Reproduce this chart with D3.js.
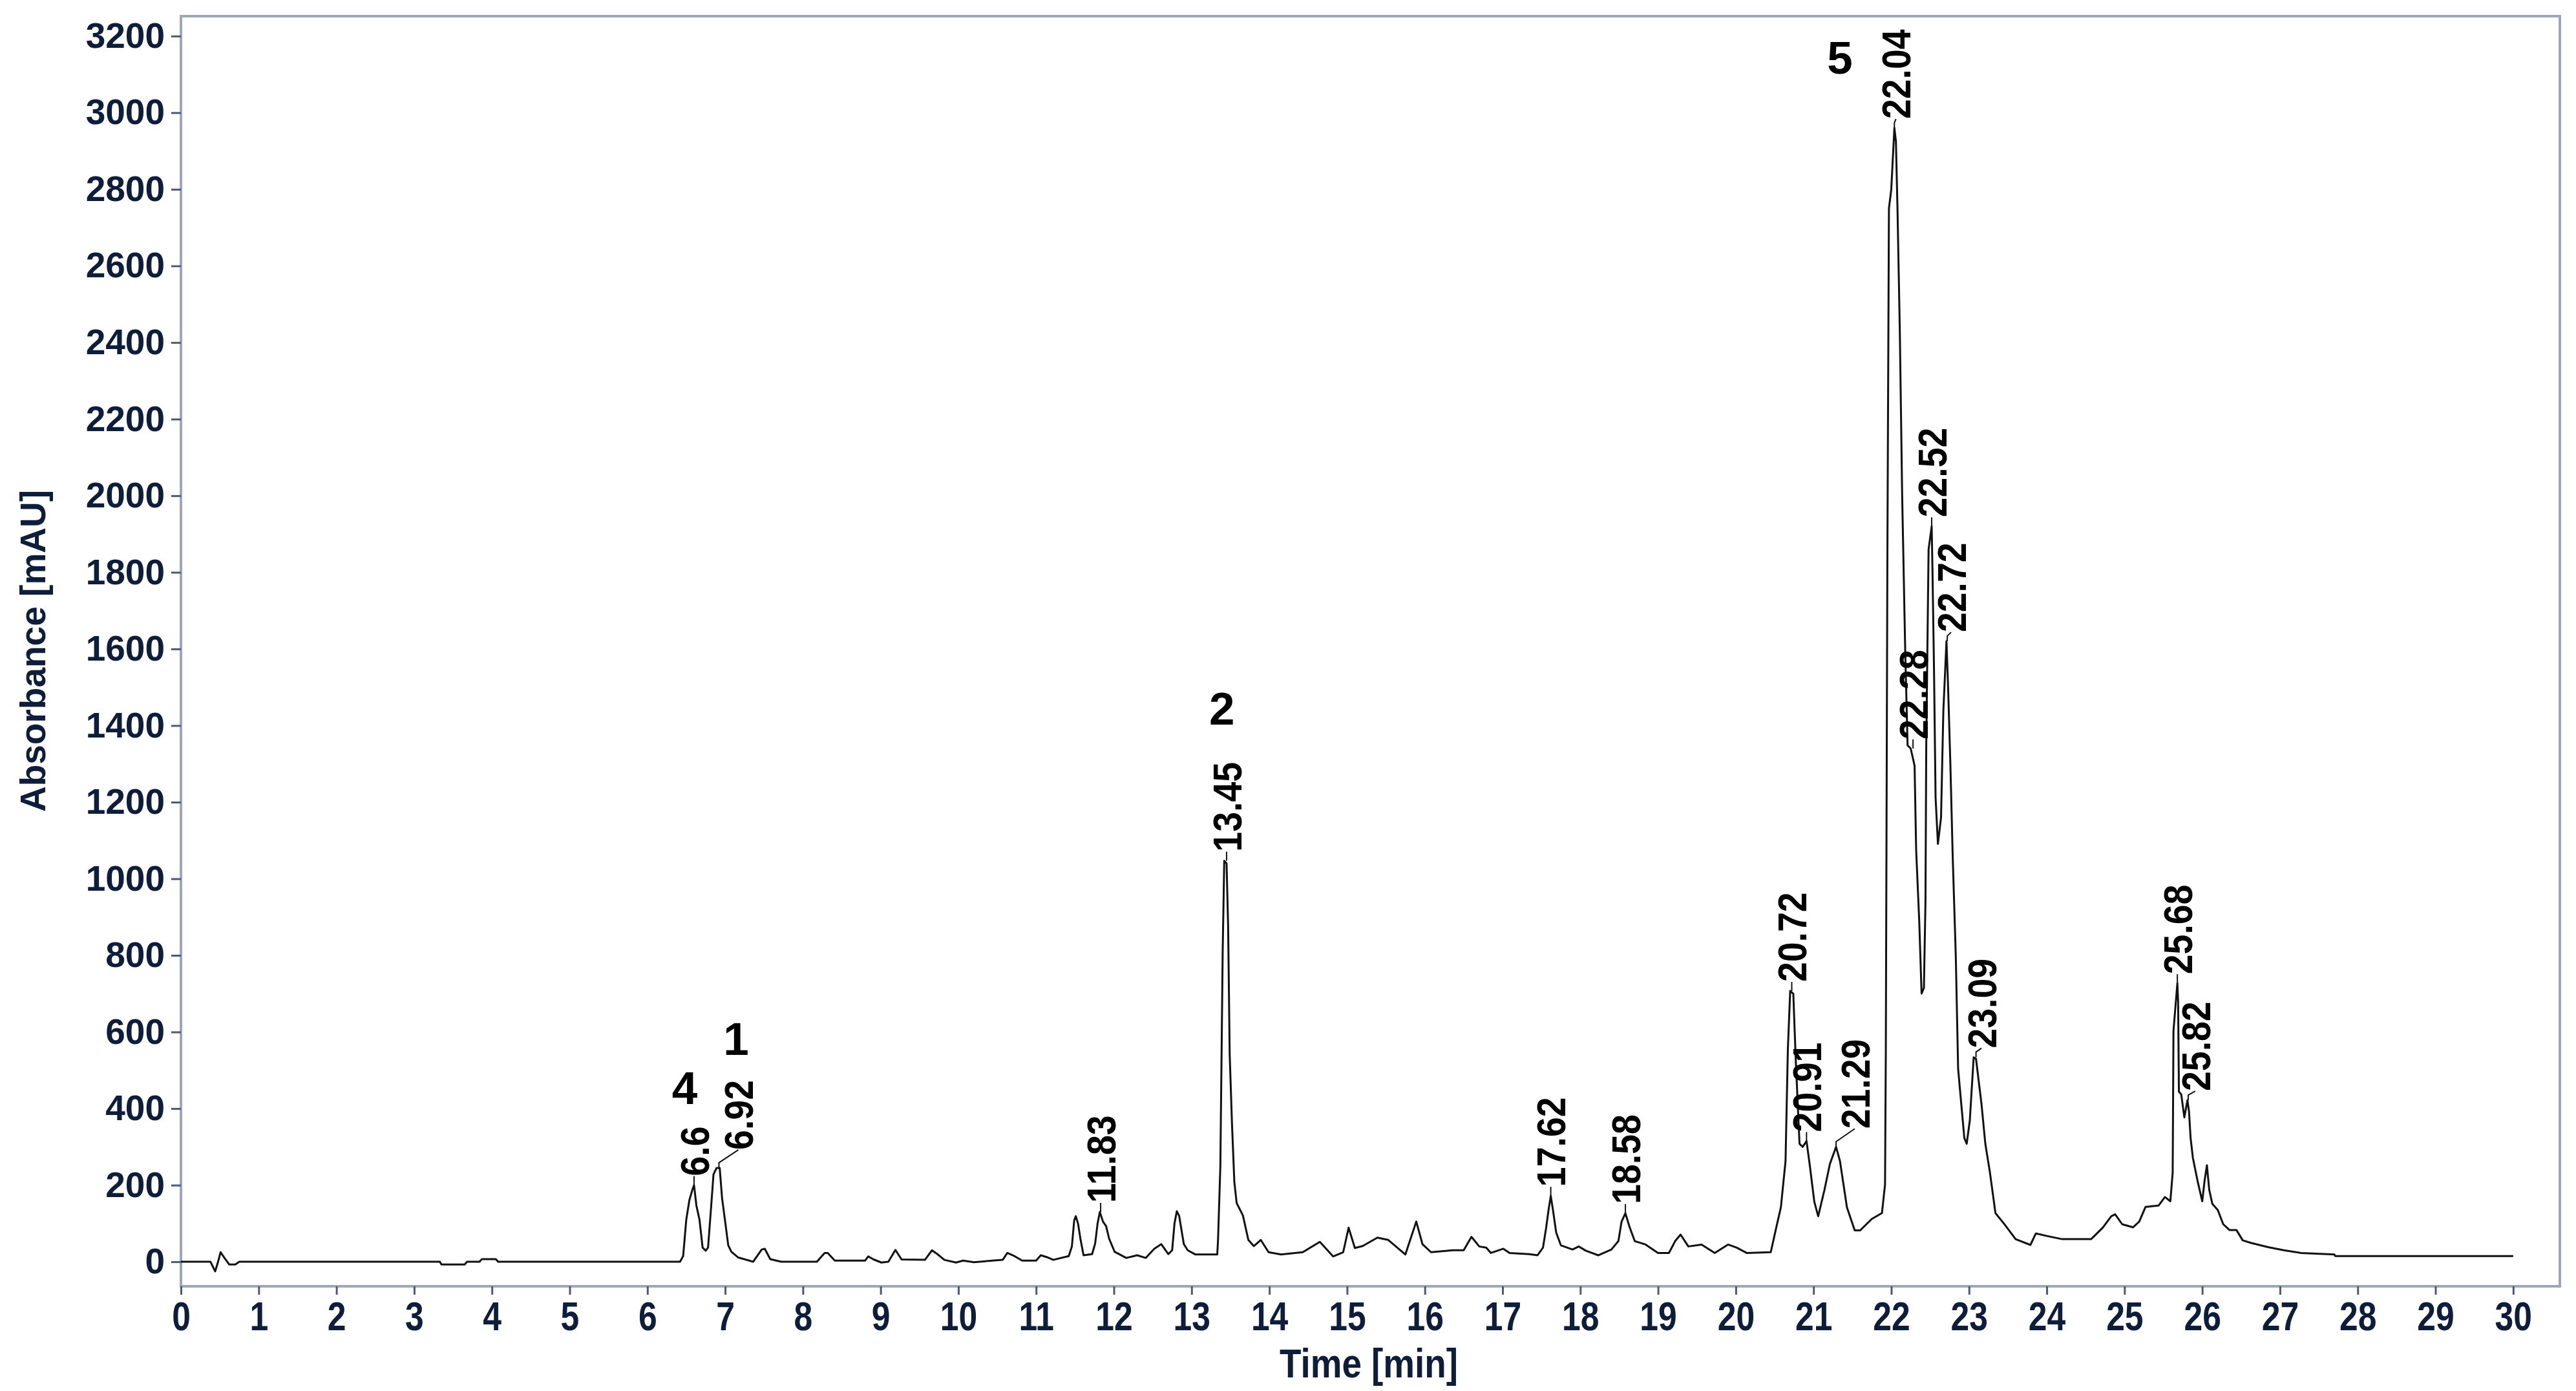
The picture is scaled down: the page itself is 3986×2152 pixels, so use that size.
<!DOCTYPE html>
<meta charset="utf-8">
<script src="https://d3js.org/d3.v7.min.js"></script>
<style>
  body { margin: 0; background: #fff; }
  text { font-family: "Liberation Sans", Arial, sans-serif; }
</style>

<div id="chromatogram"></div>

<script>
// trace: retention time [min] and absorbance [mAU]
var times = [
  0, 0.38, 0.44, 0.47, 0.51, 0.56, 0.62, 0.70, 0.75,
  3.33, 3.35, 3.65, 3.68, 3.84, 3.87, 4.05, 4.08,
  6.42, 6.46, 6.50, 6.54, 6.58, 6.60, 6.63, 6.67, 6.71, 6.75, 6.78, 6.82, 6.85, 6.89, 6.93, 6.96,
  7.00, 7.04, 7.08, 7.17, 7.31, 7.36, 7.47, 7.51, 7.58, 7.72,
  8.18, 8.28, 8.32, 8.41, 8.80, 8.84, 8.91, 9.01, 9.10, 9.19, 9.27, 9.57, 9.66, 9.73, 9.82, 9.97,
  10.06, 10.20, 10.57, 10.63, 10.72, 10.82, 11.00, 11.06, 11.14, 11.22, 11.42, 11.46, 11.49, 11.51,
  11.54, 11.57, 11.61, 11.72, 11.76, 11.79, 11.82, 11.86, 11.90, 11.94, 12.01, 12.16, 12.30, 12.41,
  12.52, 12.61, 12.70, 12.75, 12.78, 12.81, 12.84, 12.90, 12.95, 13.05, 13.33,
  13.34, 13.37, 13.40, 13.42, 13.45, 13.47, 13.49, 13.52, 13.55, 13.58, 13.66, 13.73, 13.80, 13.89, 13.99,
  14.15, 14.43, 14.65, 14.82, 14.95, 15.02, 15.10, 15.20, 15.39, 15.53, 15.75, 15.89, 15.97,
  16.08, 16.36, 16.50, 16.60, 16.70, 16.79, 16.85, 17.01, 17.09, 17.34, 17.45, 17.52, 17.56, 17.59,
  17.62, 17.65, 17.69, 17.75, 17.90, 17.98, 18.07, 18.23, 18.40, 18.49, 18.53, 18.58, 18.63, 18.70,
  18.84, 19.00, 19.14, 19.22, 19.29, 19.39, 19.56, 19.73, 19.90, 20.01, 20.14, 20.45,
  20.52, 20.58, 20.64, 20.67, 20.70, 20.74, 20.77, 20.82, 20.86, 20.91, 20.95, 21.01, 21.06, 21.14,
  21.21, 21.29, 21.34, 21.43, 21.53, 21.60, 21.75, 21.88, 21.92, 21.93, 21.95, 21.97, 22.00, 22.04,
  22.06, 22.08, 22.11, 22.14, 22.18, 22.21, 22.25, 22.30, 22.32, 22.36, 22.39, 22.42, 22.44, 22.45,
  22.48, 22.52, 22.53, 22.55, 22.57, 22.60, 22.64, 22.67, 22.71, 22.73, 22.76, 22.79, 22.83, 22.86,
  22.90, 22.94, 22.97, 23.01, 23.06, 23.09, 23.16, 23.21, 23.27, 23.34, 23.46, 23.60, 23.79, 23.86,
  24.01, 24.20, 24.57, 24.72, 24.83, 24.88, 24.97, 25.11, 25.19, 25.27, 25.44, 25.52, 25.59, 25.62,
  25.63, 25.68, 25.69, 25.70, 25.73, 25.77, 25.81, 25.83, 25.85, 25.88, 25.94, 26.00, 26.03, 26.06,
  26.09, 26.13, 26.20, 26.27, 26.35, 26.44, 26.52, 26.63, 26.85, 27.05, 27.27, 27.70, 27.71, 30.0
];
var absorbance = [
  0, 0, -25, -5, 25, 10, -7, -7, 0,
  0, -7, -7, 0, 0, 7, 7, 0,
  0, 15, 110, 161, 189, 200, 147, 110, 37, 29, 37, 144, 228, 245, 245, 167,
  105, 43, 26, 11, 3, 0, 32, 34, 7, 0,
  0, 23, 23, 3, 3, 14, 6, -2, 0, 31, 6, 5, 30, 20, 5, -2,
  3, -1, 5, 23, 15, 3, 3, 17, 12, 5, 15, 40, 108, 119,
  99, 60, 17, 20, 48, 99, 130, 105, 93, 60, 26, 10, 17, 10,
  34, 46, 20, 30, 100, 132, 120, 46, 30, 19, 19,
  57, 250, 810, 1047, 1040, 875, 542, 358, 208, 153, 121, 57, 41, 57, 25,
  19, 25, 52, 14, 25, 89, 36, 41, 63, 57, 19, 105, 46,
  25, 30, 30, 65, 40, 37, 23, 34, 23, 20, 17, 37, 88, 133,
  172, 133, 76, 43, 32, 40, 29, 17, 32, 54, 104, 127, 93, 54,
  45, 23, 23, 54, 71, 40, 45, 23, 45, 37, 23, 25,
  89, 142, 263, 556, 707, 700, 534, 308, 300, 315, 255, 157, 119, 187,
  255, 300, 263, 142, 82, 82, 112, 127, 202, 549, 1837, 2750, 2800, 2960,
  2925, 2750, 2430, 2003, 1589, 1348, 1340, 1295, 1076, 888, 700, 715, 941, 1348,
  1860, 1920, 1807, 1544, 1212, 1091, 1159, 1438, 1620, 1506, 1302, 1061, 798, 504,
  413, 323, 308, 368, 534, 530, 413, 308, 232, 127, 97, 59, 44, 74,
  67, 59, 59, 89, 119, 124, 98, 90, 105, 143, 147, 169, 158, 233,
  603, 727, 678, 444, 437, 377, 422, 392, 324, 271, 211, 158, 211, 252,
  188, 151, 135, 98, 83, 83, 56, 49, 38, 30, 23, 19, 15, 15
];

// integrated peaks: retention time label and apex height [mAU]
var peakLabels = ["6.6", "6.92", "11.83", "13.45", "17.62", "18.58", "20.72", "20.91",
                  "21.29", "22.04", "22.28", "22.52", "22.72", "23.09", "25.68", "25.82"];
var peakApex = [200, 245, 130, 1047, 172, 127, 707, 315,
                300, 2960, 1340, 1920, 1620, 534, 727, 422];

// compound numbers written above the peaks (time, absorbance of the baseline of the digit)
var compoundIds = ["4", "1", "2", "5"];
var compoundTimes = [6.48, 7.14, 13.39, 21.34];
var compoundLevels = [412, 540, 1402, 3102];

// axis ticks
var xTicks = d3.range(0, 31, 1);
var yTicks = d3.range(0, 3201, 200);

var W = 3986, H = 2152;
var margin = {top: 25, right: 25, bottom: 162, left: 280};
var navy = "#0e1e3a";

var svg = d3.select("#chromatogram")
  .append("svg")
    .attr("width", W)
    .attr("height", H)
    .style("display", "block");

var x = d3.scaleLinear()
  .domain([0, 30.6])
  .range([margin.left, W - margin.right]);

var y = d3.scaleLinear()
  .domain([-64, 3252])
  .range([H - margin.bottom, margin.top]);

// plot frame
svg.append("rect")
  .attr("x", margin.left)
  .attr("y", margin.top)
  .attr("width", W - margin.right - margin.left)
  .attr("height", H - margin.bottom - margin.top)
  .attr("fill", "none")
  .attr("stroke", "#9ea6ba")
  .attr("stroke-width", 4);

// Y axis
var yAxis = svg.append("g")
  .attr("transform", "translate(" + margin.left + ",0)")
  .call(d3.axisLeft(y).tickValues(yTicks).tickFormat(d3.format("d"))
    .tickSize(15).tickPadding(10).tickSizeOuter(0));
yAxis.select(".domain").remove();
yAxis.selectAll(".tick line").attr("stroke", "#4a5a78").attr("stroke-width", 3);
yAxis.selectAll(".tick text")
  .attr("fill", navy)
  .style("font-size", "55px")
  .style("font-weight", "bold");

// X axis
var xAxis = svg.append("g")
  .attr("transform", "translate(0," + (H - margin.bottom) + ")")
  .call(d3.axisBottom(x).tickValues(xTicks).tickSize(13).tickPadding(10).tickSizeOuter(0));
xAxis.select(".domain").remove();
xAxis.selectAll(".tick line").attr("stroke", "#4a5a78").attr("stroke-width", 3);
xAxis.selectAll(".tick text")
  .attr("fill", navy)
  .attr("transform", "scale(0.82,1)")
  .style("font-size", "63px")
  .style("font-weight", "bold");

// axis titles
svg.append("text")
  .attr("transform", "translate(2118,2131) scale(0.87,1)")
  .attr("text-anchor", "middle")
  .attr("fill", navy)
  .style("font-size", "63px")
  .style("font-weight", "bold")
  .text("Time [min]");

svg.append("text")
  .attr("transform", "translate(70,1007) rotate(-90)")
  .attr("text-anchor", "middle")
  .attr("fill", navy)
  .style("font-size", "55px")
  .style("font-weight", "bold")
  .text("Absorbance [mAU]");

// clip for the trace
svg.append("defs").append("clipPath")
    .attr("id", "clip")
  .append("rect")
    .attr("x", margin.left)
    .attr("y", margin.top)
    .attr("width", W - margin.right - margin.left)
    .attr("height", H - margin.bottom - margin.top);

var trace = times.map(function(t, i) { return {t: t, v: absorbance[i]}; });

var line = d3.line()
  .x(function(d) { return x(d.t); })
  .y(function(d) { return y(d.v); });

svg.append("path")
  .datum(trace)
  .attr("clip-path", "url(#clip)")
  .attr("fill", "none")
  .attr("stroke", "#111")
  .attr("stroke-width", 3)
  .attr("stroke-linejoin", "round")
  .attr("d", line);

// peak labels, some nudged sideways like the integrator did
var labelShift = {"6.92": 0.25, "21.29": 0.24, "23.09": 0.07, "25.82": 0.09, "22.72": 0.05, "22.04": 0.02};

var peaks = peakLabels.map(function(lab, i) {
  var t = parseFloat(lab);
  var shift = labelShift[lab] || 0;
  var px = x(t), py = y(peakApex[i]);
  return {
    label: lab,
    px: px, py: py,
    lx: x(t + shift),
    ly: py - (shift > 0.1 ? 28 : 14)
  };
});

svg.selectAll("leader")
  .data(peaks)
  .enter()
  .append("path")
    .attr("fill", "none")
    .attr("stroke", "#111")
    .attr("stroke-width", 2)
    .attr("d", function(d) {
      return "M" + d.px + "," + d.py + "L" + d.px + "," + (d.py - 8) + "L" + d.lx + "," + d.ly;
    });

svg.selectAll("peaklabel")
  .data(peaks)
  .enter()
  .append("text")
    .attr("transform", function(d) { return "translate(" + d.lx + "," + d.ly + ") rotate(-90) scale(0.88,1)"; })
    .attr("dy", "0.36em")
    .attr("text-anchor", "start")
    .attr("fill", "#000")
    .style("font-size", "63px")
    .style("font-weight", "bold")
    .text(function(d) { return d.label; });

// compound numbers
svg.selectAll("compound")
  .data(compoundIds)
  .enter()
  .append("text")
    .attr("x", function(d, i) { return x(compoundTimes[i]); })
    .attr("y", function(d, i) { return y(compoundLevels[i]); })
    .attr("text-anchor", "middle")
    .attr("fill", "#000")
    .style("font-size", "71px")
    .style("font-weight", "bold")
    .text(function(d) { return d; });
</script>
